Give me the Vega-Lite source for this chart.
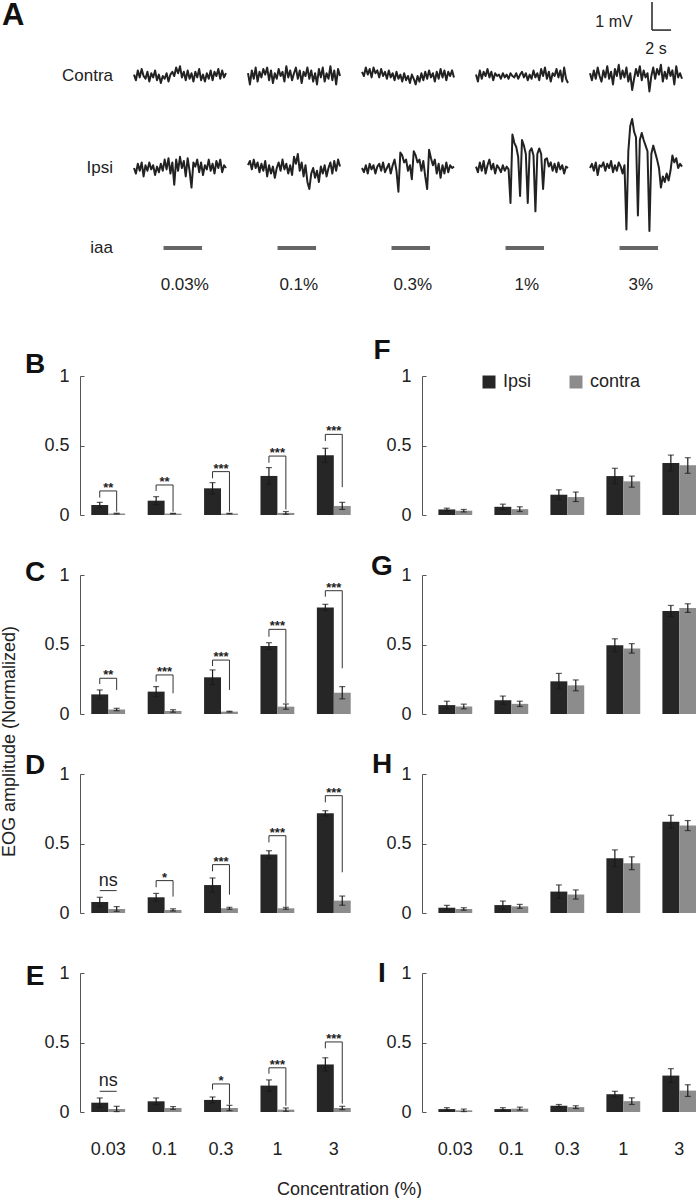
{
"$schema":"https://vega.github.io/schema/vega-lite/v6.json",
"padding":0,
"background":"white",
"spacing":44,
"resolve":{"scale":{"color":"independent"}},
"config":{
  "view":{"stroke":null},
  "font":"Liberation Sans",
  "axis":{"labelFont":"Liberation Sans","labelColor":"#222","labelFontSize":18,"domainColor":"#555","domainWidth":1,"tickColor":"#555","grid":false,"titleFont":"Liberation Sans","titleFontSize":18,"titleFontWeight":"normal","titleColor":"#222"},
  "axisY":{"tickCount":2,"labelExpr":"datum.value","tickSize":-4,"labelPadding":15},
  "axisX":{"labelAngle":0},
  "title":{"font":"Liberation Sans","fontSize":28,"fontWeight":"bold","color":"#111","anchor":"start","offset":0,"frame":"group"},
  "header":{"labelFont":"Liberation Sans","labelFontSize":17,"labelColor":"#222"},
  "text":{"font":"Liberation Sans","color":"#222"},
  "legend":{"labelFont":"Liberation Sans","labelColor":"#222"}
},
"datasets":{
"A":[
{"k":"tr","c":"0.03%","s":"Contra","t":[0,0.2,0.4,0.6,0.8,1,1.2,1.4,1.6,1.8,2,2.2,2.4,2.6,2.8,3,3.2,3.4,3.6,3.8,4,4.2,4.4,4.6,4.8,5,5.2,5.4,5.6,5.8,6,6.2,6.4,6.6,6.8,7,7.2,7.4,7.6,7.8,8,8.2,8.4,8.6,8.8,9,9.2,9.4,9.6],"v":[0.05,-0.15,0.2,-0.05,0.25,0.0,-0.1,0.15,-0.2,0.1,-0.05,0.2,-0.15,0.05,-0.25,0.0,-0.1,0.1,-0.2,0.05,0.15,0.0,0.3,0.1,0.35,-0.05,0.15,-0.15,0.2,-0.1,0.1,-0.2,0.15,-0.05,0.25,-0.15,0.05,-0.2,0.1,-0.1,0.2,-0.15,0.15,0.0,0.25,-0.1,0.2,-0.05,0.1]},
{"k":"tr","c":"0.1%","s":"Contra","t":[0,0.2,0.4,0.6,0.8,1,1.2,1.4,1.6,1.8,2,2.2,2.4,2.6,2.8,3,3.2,3.4,3.6,3.8,4,4.2,4.4,4.6,4.8,5,5.2,5.4,5.6,5.8,6,6.2,6.4,6.6,6.8,7,7.2,7.4,7.6,7.8,8,8.2,8.4,8.6,8.8,9,9.2,9.4,9.6],"v":[0.1,-0.3,0.2,-0.1,0.3,-0.2,0.15,-0.05,0.25,0.05,0.3,-0.15,0.2,-0.25,0.1,-0.1,0.25,0.0,0.15,-0.2,0.35,-0.05,0.2,-0.15,0.1,0.3,-0.1,0.2,-0.25,0.15,0.0,0.3,-0.1,0.2,-0.2,0.1,-0.3,0.25,-0.05,0.3,-0.2,0.1,-0.1,0.35,-0.15,0.2,-0.3,0.25,0.0]},
{"k":"tr","c":"0.3%","s":"Contra","t":[0,0.2,0.4,0.6,0.8,1,1.2,1.4,1.6,1.8,2,2.2,2.4,2.6,2.8,3,3.2,3.4,3.6,3.8,4,4.2,4.4,4.6,4.8,5,5.2,5.4,5.6,5.8,6,6.2,6.4,6.6,6.8,7,7.2,7.4,7.6,7.8,8,8.2,8.4,8.6,8.8,9,9.2,9.4,9.6],"v":[0.15,0.0,0.3,0.05,0.25,-0.05,0.3,0.1,0.2,-0.05,0.25,0.0,0.15,-0.1,0.2,-0.05,0.1,-0.15,0.15,-0.1,0.05,-0.2,0.1,-0.15,0.0,-0.25,0.05,-0.1,-0.3,0.0,-0.2,0.1,-0.15,0.15,-0.1,0.2,-0.05,0.1,-0.2,0.15,-0.1,0.25,-0.05,0.2,-0.15,0.15,0.0,0.2,-0.05]},
{"k":"tr","c":"1%","s":"Contra","t":[0,0.2,0.4,0.6,0.8,1,1.2,1.4,1.6,1.8,2,2.2,2.4,2.6,2.8,3,3.2,3.4,3.6,3.8,4,4.2,4.4,4.6,4.8,5,5.2,5.4,5.6,5.8,6,6.2,6.4,6.6,6.8,7,7.2,7.4,7.6,7.8,8,8.2,8.4,8.6,8.8,9,9.2,9.4,9.6],"v":[0.05,-0.2,0.2,-0.1,0.15,0.0,0.25,-0.05,0.15,-0.15,0.1,0.0,0.05,-0.1,0.1,-0.05,0.05,-0.1,0.1,0.0,-0.05,0.1,-0.1,0.05,0.15,-0.05,0.1,-0.15,0.05,-0.1,0.2,-0.05,0.1,-0.15,0.25,0.0,0.3,-0.1,0.15,-0.2,0.1,0.0,0.25,-0.05,0.2,-0.2,0.3,-0.1,-0.25]},
{"k":"tr","c":"3%","s":"Contra","t":[0,0.2,0.4,0.6,0.8,1,1.2,1.4,1.6,1.8,2,2.2,2.4,2.6,2.8,3,3.2,3.4,3.6,3.8,4,4.2,4.4,4.6,4.8,5,5.2,5.4,5.6,5.8,6,6.2,6.4,6.6,6.8,7,7.2,7.4,7.6,7.8,8,8.2,8.4,8.6,8.8,9,9.2,9.4,9.6],"v":[0.1,-0.15,0.2,-0.1,0.3,0.0,-0.2,0.2,-0.05,0.35,-0.1,0.15,-0.3,0.25,0.0,0.4,-0.1,0.2,-0.05,0.3,-0.2,0.1,-0.5,-0.1,0.25,0.0,0.35,-0.15,0.2,-0.05,0.1,-0.55,0.0,0.3,-0.1,0.25,0.05,0.4,-0.2,0.15,-0.1,0.3,0.0,0.2,-0.3,0.35,-0.05,0.1,-0.1]},
{"k":"tr","c":"0.03%","s":"Ipsi","t":[0,0.2,0.4,0.6,0.8,1,1.2,1.4,1.6,1.8,2,2.2,2.4,2.6,2.8,3,3.2,3.4,3.6,3.8,4,4.2,4.4,4.6,4.8,5,5.2,5.4,5.6,5.8,6,6.2,6.4,6.6,6.8,7,7.2,7.4,7.6,7.8,8,8.2,8.4,8.6,8.8,9,9.2,9.4,9.6],"v":[0.0,-0.2,0.15,-0.1,0.2,-0.3,0.1,-0.1,0.2,-0.05,0.1,-0.25,0.05,-0.15,0.15,-0.1,0.3,-0.05,0.35,-0.2,0.2,-0.6,0.3,-0.1,0.4,0.0,0.25,-0.3,0.35,-0.1,-0.7,0.2,0.05,0.3,-0.15,0.2,-0.25,0.1,-0.05,0.3,-0.1,0.15,-0.2,0.25,0.0,0.3,-0.15,0.1,0.0]},
{"k":"tr","c":"0.1%","s":"Ipsi","t":[0,0.2,0.4,0.6,0.8,1,1.2,1.4,1.6,1.8,2,2.2,2.4,2.6,2.8,3,3.2,3.4,3.6,3.8,4,4.2,4.4,4.6,4.8,5,5.2,5.4,5.6,5.8,6,6.2,6.4,6.6,6.8,7,7.2,7.4,7.6,7.8,8,8.2,8.4,8.6,8.8,9,9.2,9.4,9.6],"v":[0.1,0.25,-0.05,0.3,0.0,0.2,-0.15,0.15,-0.1,0.25,-0.3,0.1,-0.2,0.05,-0.35,0.0,0.2,-0.1,0.3,-0.05,0.15,-0.2,0.1,-0.25,0.4,0.15,0.5,-0.1,0.2,-0.3,0.1,-0.5,-0.75,-0.2,0.0,-0.35,-0.1,-0.5,0.05,-0.2,0.1,-0.3,0.0,0.2,-0.2,0.25,-0.1,0.3,0.05]},
{"k":"tr","c":"0.3%","s":"Ipsi","t":[0,0.2,0.4,0.6,0.8,1,1.2,1.4,1.6,1.8,2,2.2,2.4,2.6,2.8,3,3.2,3.4,3.6,3.8,4,4.2,4.4,4.6,4.8,5,5.2,5.4,5.6,5.8,6,6.2,6.4,6.6,6.8,7,7.2,7.4,7.6,7.8,8,8.2,8.4,8.6,8.8,9,9.2,9.4,9.6],"v":[0.0,-0.15,0.1,-0.2,0.15,-0.05,0.1,-0.2,0.05,0.15,-0.1,0.2,-0.15,0.0,0.15,-0.2,0.1,0.3,-0.1,-0.85,0.55,0.45,0.2,0.3,-0.1,0.1,-0.4,0.6,0.45,0.2,0.3,-0.1,0.25,-0.3,-0.75,0.65,0.35,0.1,0.3,-0.2,0.15,-0.35,0.1,-0.2,0.2,-0.15,0.1,0.0,0.05]},
{"k":"tr","c":"1%","s":"Ipsi","t":[0,0.2,0.4,0.6,0.8,1,1.2,1.4,1.6,1.8,2,2.2,2.4,2.6,2.8,3,3.2,3.4,3.6,3.8,4,4.2,4.4,4.6,4.8,5,5.2,5.4,5.6,5.8,6,6.2,6.4,6.6,6.8,7,7.2,7.4,7.6,7.8,8,8.2,8.4,8.6,8.8,9,9.2,9.4,9.6],"v":[0.05,-0.15,0.2,-0.1,0.25,-0.2,0.1,0.3,-0.05,0.15,-0.2,0.1,0.0,-0.15,0.1,-0.1,0.05,-0.05,-1.25,1.2,0.9,0.75,0.4,-1.0,1.0,0.8,0.5,-1.25,0.6,0.7,0.45,-1.55,0.5,0.7,0.5,-0.75,0.3,0.35,0.05,0.2,-0.1,0.15,-0.15,0.2,-0.05,0.1,-0.2,0.05,0.0]},
{"k":"tr","c":"3%","s":"Ipsi","t":[0,0.2,0.4,0.6,0.8,1,1.2,1.4,1.6,1.8,2,2.2,2.4,2.6,2.8,3,3.2,3.4,3.6,3.8,4,4.2,4.4,4.6,4.8,5,5.2,5.4,5.6,5.8,6,6.2,6.4,6.6,6.8,7,7.2,7.4,7.6,7.8,8,8.2,8.4,8.6,8.8,9,9.2,9.4,9.6],"v":[0.0,0.15,-0.1,0.2,-0.25,0.1,0.05,0.2,-0.1,0.15,0.0,0.25,-0.15,0.1,-0.1,0.2,0.05,-0.2,0.1,-2.2,0.6,1.5,1.75,1.3,1.1,-1.7,1.0,1.25,1.0,0.8,0.6,-2.25,0.5,0.8,0.55,0.3,0.0,-0.7,-0.3,-0.5,-0.2,-0.45,-0.1,0.45,0.2,0.35,0.0,0.15,0.05]},
{"k":"sb","c":"3%","s":"Contra","t":6.47,"t2":6.47,"v":2.64,"v2":1.64},
{"k":"sb","c":"3%","s":"Contra","t":6.47,"t2":8.46,"v":1.64,"v2":1.64},
{"k":"sbt","c":"3%","s":"Contra","t":2.5,"v":1.93,"lab":"1 mV"},
{"k":"sbt","c":"3%","s":"Contra","t":6.89,"v":0.96,"lab":"2 s"},
{"k":"iaa","c":"0.03%","s":"iaa","t":3.08,"t2":7.1,"v":0,"tm":5.3,"lab":"0.03%"},
{"k":"iaa","c":"0.1%","s":"iaa","t":3.08,"t2":7.1,"v":0,"tm":5.3,"lab":"0.1%"},
{"k":"iaa","c":"0.3%","s":"iaa","t":3.08,"t2":7.1,"v":0,"tm":5.3,"lab":"0.3%"},
{"k":"iaa","c":"1%","s":"iaa","t":3.08,"t2":7.1,"v":0,"tm":5.3,"lab":"1%"},
{"k":"iaa","c":"3%","s":"iaa","t":3.08,"t2":7.1,"v":0,"tm":5.3,"lab":"3%"}
],
"bars":[
{"p":"B","c":"0.03","s":"Ipsi","v":0.072,"lo":0.053,"hi":0.091},{"p":"B","c":"0.03","s":"contra","v":0.010,"lo":0.007,"hi":0.013},
{"p":"B","c":"0.1","s":"Ipsi","v":0.103,"lo":0.074,"hi":0.132},{"p":"B","c":"0.1","s":"contra","v":0.010,"lo":0.008,"hi":0.012},
{"p":"B","c":"0.3","s":"Ipsi","v":0.192,"lo":0.151,"hi":0.233},{"p":"B","c":"0.3","s":"contra","v":0.010,"lo":0.008,"hi":0.012},
{"p":"B","c":"1","s":"Ipsi","v":0.281,"lo":0.221,"hi":0.341},{"p":"B","c":"1","s":"contra","v":0.015,"lo":0.005,"hi":0.025},
{"p":"B","c":"3","s":"Ipsi","v":0.429,"lo":0.378,"hi":0.48},{"p":"B","c":"3","s":"contra","v":0.065,"lo":0.04,"hi":0.091},
{"p":"C","c":"0.03","s":"Ipsi","v":0.141,"lo":0.109,"hi":0.173},{"p":"C","c":"0.03","s":"contra","v":0.032,"lo":0.024,"hi":0.041},
{"p":"C","c":"0.1","s":"Ipsi","v":0.161,"lo":0.125,"hi":0.197},{"p":"C","c":"0.1","s":"contra","v":0.022,"lo":0.013,"hi":0.031},
{"p":"C","c":"0.3","s":"Ipsi","v":0.264,"lo":0.211,"hi":0.317},{"p":"C","c":"0.3","s":"contra","v":0.017,"lo":0.014,"hi":0.02},
{"p":"C","c":"1","s":"Ipsi","v":0.489,"lo":0.465,"hi":0.513},{"p":"C","c":"1","s":"contra","v":0.053,"lo":0.034,"hi":0.072},
{"p":"C","c":"3","s":"Ipsi","v":0.767,"lo":0.745,"hi":0.789},{"p":"C","c":"3","s":"contra","v":0.153,"lo":0.109,"hi":0.197},
{"p":"D","c":"0.03","s":"Ipsi","v":0.079,"lo":0.045,"hi":0.113},{"p":"D","c":"0.03","s":"contra","v":0.029,"lo":0.012,"hi":0.046},
{"p":"D","c":"0.1","s":"Ipsi","v":0.113,"lo":0.085,"hi":0.141},{"p":"D","c":"0.1","s":"contra","v":0.022,"lo":0.014,"hi":0.03},
{"p":"D","c":"0.3","s":"Ipsi","v":0.201,"lo":0.15,"hi":0.252},{"p":"D","c":"0.3","s":"contra","v":0.034,"lo":0.027,"hi":0.041},
{"p":"D","c":"1","s":"Ipsi","v":0.42,"lo":0.392,"hi":0.448},{"p":"D","c":"1","s":"contra","v":0.034,"lo":0.027,"hi":0.041},
{"p":"D","c":"3","s":"Ipsi","v":0.717,"lo":0.698,"hi":0.736},{"p":"D","c":"3","s":"contra","v":0.089,"lo":0.056,"hi":0.122},
{"p":"E","c":"0.03","s":"Ipsi","v":0.067,"lo":0.033,"hi":0.101},{"p":"E","c":"0.03","s":"contra","v":0.022,"lo":0.003,"hi":0.041},
{"p":"E","c":"0.1","s":"Ipsi","v":0.077,"lo":0.053,"hi":0.101},{"p":"E","c":"0.1","s":"contra","v":0.029,"lo":0.019,"hi":0.039},
{"p":"E","c":"0.3","s":"Ipsi","v":0.087,"lo":0.066,"hi":0.108},{"p":"E","c":"0.3","s":"contra","v":0.029,"lo":0.01,"hi":0.048},
{"p":"E","c":"1","s":"Ipsi","v":0.19,"lo":0.149,"hi":0.231},{"p":"E","c":"1","s":"contra","v":0.017,"lo":0.005,"hi":0.029},
{"p":"E","c":"3","s":"Ipsi","v":0.342,"lo":0.294,"hi":0.39},{"p":"E","c":"3","s":"contra","v":0.029,"lo":0.017,"hi":0.041},
{"p":"F","c":"0.03","s":"Ipsi","v":0.04,"lo":0.031,"hi":0.049},{"p":"F","c":"0.03","s":"contra","v":0.031,"lo":0.022,"hi":0.04},
{"p":"F","c":"0.1","s":"Ipsi","v":0.059,"lo":0.04,"hi":0.078},{"p":"F","c":"0.1","s":"contra","v":0.042,"lo":0.025,"hi":0.059},
{"p":"F","c":"0.3","s":"Ipsi","v":0.146,"lo":0.111,"hi":0.181},{"p":"F","c":"0.3","s":"contra","v":0.129,"lo":0.097,"hi":0.165},
{"p":"F","c":"1","s":"Ipsi","v":0.28,"lo":0.224,"hi":0.336},{"p":"F","c":"1","s":"contra","v":0.242,"lo":0.2,"hi":0.28},
{"p":"F","c":"3","s":"Ipsi","v":0.374,"lo":0.317,"hi":0.431},{"p":"F","c":"3","s":"contra","v":0.358,"lo":0.3,"hi":0.412},
{"p":"G","c":"0.03","s":"Ipsi","v":0.064,"lo":0.036,"hi":0.092},{"p":"G","c":"0.03","s":"contra","v":0.054,"lo":0.037,"hi":0.071},
{"p":"G","c":"0.1","s":"Ipsi","v":0.099,"lo":0.069,"hi":0.129},{"p":"G","c":"0.1","s":"contra","v":0.073,"lo":0.054,"hi":0.092},
{"p":"G","c":"0.3","s":"Ipsi","v":0.235,"lo":0.178,"hi":0.292},{"p":"G","c":"0.3","s":"contra","v":0.206,"lo":0.167,"hi":0.245},
{"p":"G","c":"1","s":"Ipsi","v":0.494,"lo":0.447,"hi":0.541},{"p":"G","c":"1","s":"contra","v":0.472,"lo":0.438,"hi":0.506},
{"p":"G","c":"3","s":"Ipsi","v":0.741,"lo":0.701,"hi":0.781},{"p":"G","c":"3","s":"contra","v":0.762,"lo":0.731,"hi":0.793},
{"p":"H","c":"0.03","s":"Ipsi","v":0.038,"lo":0.021,"hi":0.055},{"p":"H","c":"0.03","s":"contra","v":0.029,"lo":0.02,"hi":0.038},
{"p":"H","c":"0.1","s":"Ipsi","v":0.057,"lo":0.028,"hi":0.086},{"p":"H","c":"0.1","s":"contra","v":0.048,"lo":0.034,"hi":0.062},
{"p":"H","c":"0.3","s":"Ipsi","v":0.154,"lo":0.106,"hi":0.202},{"p":"H","c":"0.3","s":"contra","v":0.133,"lo":0.1,"hi":0.166},
{"p":"H","c":"1","s":"Ipsi","v":0.394,"lo":0.334,"hi":0.454},{"p":"H","c":"1","s":"contra","v":0.358,"lo":0.312,"hi":0.404},
{"p":"H","c":"3","s":"Ipsi","v":0.656,"lo":0.609,"hi":0.703},{"p":"H","c":"3","s":"contra","v":0.629,"lo":0.593,"hi":0.665},
{"p":"I","c":"0.03","s":"Ipsi","v":0.021,"lo":0.011,"hi":0.031},{"p":"I","c":"0.03","s":"contra","v":0.012,"lo":0.003,"hi":0.021},
{"p":"I","c":"0.1","s":"Ipsi","v":0.021,"lo":0.011,"hi":0.031},{"p":"I","c":"0.1","s":"contra","v":0.024,"lo":0.013,"hi":0.035},
{"p":"I","c":"0.3","s":"Ipsi","v":0.045,"lo":0.036,"hi":0.054},{"p":"I","c":"0.3","s":"contra","v":0.035,"lo":0.025,"hi":0.045},
{"p":"I","c":"1","s":"Ipsi","v":0.128,"lo":0.107,"hi":0.149},{"p":"I","c":"1","s":"contra","v":0.078,"lo":0.054,"hi":0.102},
{"p":"I","c":"3","s":"Ipsi","v":0.262,"lo":0.212,"hi":0.312},{"p":"I","c":"3","s":"contra","v":0.154,"lo":0.112,"hi":0.196}
],
"br":[
{"p":"B","c":"0.03","s":["Ipsi","Ipsi","contra","contra"],"y":[0.125,0.173,0.173,0.024],"k":[0,1,2,3]},
{"p":"B","c":"0.1","s":["Ipsi","Ipsi","contra","contra"],"y":[0.173,0.216,0.216,0.024],"k":[0,1,2,3]},
{"p":"B","c":"0.3","s":["Ipsi","Ipsi","contra","contra"],"y":[0.264,0.312,0.312,0.024],"k":[0,1,2,3]},
{"p":"B","c":"1","s":["Ipsi","Ipsi","contra","contra"],"y":[0.376,0.424,0.424,0.04],"k":[0,1,2,3]},
{"p":"B","c":"3","s":["Ipsi","Ipsi","contra","contra"],"y":[0.532,0.58,0.58,0.2],"k":[0,1,2,3]},
{"p":"C","c":"0.03","s":["Ipsi","Ipsi","contra","contra"],"y":[0.215,0.257,0.257,0.173],"k":[0,1,2,3]},
{"p":"C","c":"0.1","s":["Ipsi","Ipsi","contra","contra"],"y":[0.233,0.281,0.281,0.149],"k":[0,1,2,3]},
{"p":"C","c":"0.3","s":["Ipsi","Ipsi","contra","contra"],"y":[0.345,0.388,0.388,0.173],"k":[0,1,2,3]},
{"p":"C","c":"1","s":["Ipsi","Ipsi","contra","contra"],"y":[0.556,0.609,0.609,0.077],"k":[0,1,2,3]},
{"p":"C","c":"3","s":["Ipsi","Ipsi","contra","contra"],"y":[0.844,0.887,0.887,0.329],"k":[0,1,2,3]},
{"p":"D","c":"0.03","s":["Ipsi","contra"],"y":[0.161,0.161],"k":[0,1]},
{"p":"D","c":"0.1","s":["Ipsi","Ipsi","contra","contra"],"y":[0.185,0.233,0.233,0.118],"k":[0,1,2,3]},
{"p":"D","c":"0.3","s":["Ipsi","Ipsi","contra","contra"],"y":[0.3,0.348,0.348,0.132],"k":[0,1,2,3]},
{"p":"D","c":"1","s":["Ipsi","Ipsi","contra","contra"],"y":[0.508,0.556,0.556,0.045],"k":[0,1,2,3]},
{"p":"D","c":"3","s":["Ipsi","Ipsi","contra","contra"],"y":[0.796,0.844,0.844,0.293],"k":[0,1,2,3]},
{"p":"E","c":"0.03","s":["Ipsi","contra"],"y":[0.149,0.149],"k":[0,1]},
{"p":"E","c":"0.3","s":["Ipsi","Ipsi","contra","contra"],"y":[0.161,0.202,0.202,0.053],"k":[0,1,2,3]},
{"p":"E","c":"1","s":["Ipsi","Ipsi","contra","contra"],"y":[0.275,0.318,0.318,0.045],"k":[0,1,2,3]},
{"p":"E","c":"3","s":["Ipsi","Ipsi","contra","contra"],"y":[0.458,0.504,0.504,0.06],"k":[0,1,2,3]}
],
"sig":[
{"p":"B","c":"0.03","lab":"**","y":0.173},{"p":"B","c":"0.1","lab":"**","y":0.216},{"p":"B","c":"0.3","lab":"***","y":0.312},{"p":"B","c":"1","lab":"***","y":0.424},{"p":"B","c":"3","lab":"***","y":0.58},
{"p":"C","c":"0.03","lab":"**","y":0.257},{"p":"C","c":"0.1","lab":"***","y":0.281},{"p":"C","c":"0.3","lab":"***","y":0.388},{"p":"C","c":"1","lab":"***","y":0.609},{"p":"C","c":"3","lab":"***","y":0.887},
{"p":"D","c":"0.03","lab":"ns","y":0.161},{"p":"D","c":"0.1","lab":"*","y":0.233},{"p":"D","c":"0.3","lab":"***","y":0.348},{"p":"D","c":"1","lab":"***","y":0.556},{"p":"D","c":"3","lab":"***","y":0.844},
{"p":"E","c":"0.03","lab":"ns","y":0.149},{"p":"E","c":"0.3","lab":"*","y":0.202},{"p":"E","c":"1","lab":"***","y":0.318},{"p":"E","c":"3","lab":"***","y":0.504}
]
},
"vconcat":[
{
 "title":{"text":"A","fontSize":31,"align":"left","dx":-78,"dy":35},
 "spacing":22,
 "vconcat":[
  {
   "data":{"name":"A"},
   "transform":[{"filter":"datum.s=='Contra'"}],
   "facet":{"column":{"field":"c","sort":["0.03%","0.1%","0.3%","1%","3%"],"header":null},
            "row":{"field":"s","header":{"title":null,"labelAngle":0,"labelAlign":"left","labelPadding":-33,"labelFontSize":17}}},
   "spacing":{"row":0,"column":0},
   "bounds":"flush",
   "spec":{"width":114,"height":40,"layer":[
     {"transform":[{"filter":"datum.k=='tr'"},{"flatten":["t","v"]}],
      "mark":{"type":"line","color":"#222","strokeWidth":2,"strokeJoin":"round"},
      "encoding":{"x":{"field":"t","type":"quantitative","scale":{"domain":[-5.635,6.261]},"axis":null},
                  "y":{"field":"v","type":"quantitative","scale":{"domain":[-0.714,0.714]},"axis":null}}},
     {"transform":[{"filter":"datum.k=='sb'"}],
      "mark":{"type":"rule","color":"#222","strokeWidth":1.5},
      "encoding":{"x":{"field":"t","type":"quantitative","scale":{"domain":[-5.635,6.261]},"axis":null},"x2":{"field":"t2"},
                  "y":{"field":"v","type":"quantitative","scale":{"domain":[-0.714,0.714]},"axis":null},"y2":{"field":"v2"}}},
     {"transform":[{"filter":"datum.k=='sbt'"}],
      "mark":{"type":"text","fontSize":16,"color":"#222","baseline":"middle"},
      "encoding":{"x":{"field":"t","type":"quantitative","scale":{"domain":[-5.635,6.261]},"axis":null},
                  "y":{"field":"v","type":"quantitative","scale":{"domain":[-0.714,0.714]},"axis":null},
                  "text":{"field":"lab"}}}
   ]}
  },
  {
   "spacing":6,
   "vconcat":[
    {
     "data":{"name":"A"},
     "transform":[{"filter":"datum.s=='Ipsi'"}],
     "facet":{"column":{"field":"c","sort":["0.03%","0.1%","0.3%","1%","3%"],"header":null},
              "row":{"field":"s","header":{"title":null,"labelAngle":0,"labelAlign":"left","labelPadding":-33,"labelFontSize":17}}},
     "spacing":{"row":0,"column":0},
     "bounds":"flush",
     "spec":{"width":114,"height":80,"layer":[
       {"transform":[{"filter":"datum.k=='tr'"},{"flatten":["t","v"]}],
        "mark":{"type":"line","color":"#222","strokeWidth":2,"strokeJoin":"round"},
        "encoding":{"x":{"field":"t","type":"quantitative","scale":{"domain":[-5.635,6.261]},"axis":null},
                    "y":{"field":"v","type":"quantitative","scale":{"domain":[-1.43,1.43]},"axis":null}}}
     ]}
    },
    {
     "data":{"name":"A"},
     "transform":[{"filter":"datum.s=='iaa'"}],
     "facet":{"column":{"field":"c","sort":["0.03%","0.1%","0.3%","1%","3%"],"header":null},
              "row":{"field":"s","header":{"title":null,"labelAngle":0,"labelAlign":"left","labelPadding":-33,"labelFontSize":17}}},
     "spacing":{"row":0,"column":0},
     "bounds":"flush",
     "spec":{"width":114,"height":20,"layer":[
       {"mark":{"type":"rule","color":"#666","strokeWidth":4},
        "encoding":{"x":{"field":"t","type":"quantitative","scale":{"domain":[-5.635,6.261]},"axis":null},"x2":{"field":"t2"},
                    "y":{"field":"v","type":"quantitative","scale":{"domain":[-1,1]},"axis":null}}},
       {"mark":{"type":"text","fontSize":17,"color":"#222","baseline":"middle","dy":37},
        "encoding":{"x":{"field":"tm","type":"quantitative","scale":{"domain":[-5.635,6.261]},"axis":null},
                    "y":{"field":"v","type":"quantitative","scale":{"domain":[-1,1]},"axis":null},
                    "text":{"field":"lab"}}}
     ]}
    }
   ]
  }
 ]
},
{
 "bounds":"flush",
 "columns":2,
 "spacing":{"row":60,"column":60},
 "resolve":{"scale":{"color":"independent"}},
 "concat":[
    {"width":282,"height":139,"title":{"text":"B","align":"center","dx":-45,"dy":16},
     "layer":[
      {"data":{"name":"bars"},"transform":[{"filter":"datum.p=='B'"}],"mark":"bar",
       "encoding":{"x":{"field":"c","type":"ordinal","sort":["0.03","0.1","0.3","1","3"],"title":null,"scale":{"paddingInner":0.4,"paddingOuter":0.2},"axis":null},
        "xOffset":{"field":"s","sort":["Ipsi","contra"]},
        "y":{"field":"v","type":"quantitative","title":null,"scale":{"domain":[0,1]}},
        "color":{"field":"s","scale":{"domain":["Ipsi","contra"],"range":["#262626","#8c8c8c"]},"legend":null}}},
      {"data":{"name":"bars"},"transform":[{"filter":"datum.p=='B'"}],"mark":{"type":"rule","color":"#1a1a1a","strokeWidth":1.2},
       "encoding":{"x":{"field":"c","type":"ordinal","sort":["0.03","0.1","0.3","1","3"],"scale":{"paddingInner":0.4,"paddingOuter":0.2},"axis":null},"xOffset":{"field":"s","sort":["Ipsi","contra"]},
        "y":{"field":"lo","type":"quantitative","title":null,"scale":{"domain":[0,1]}},"y2":{"field":"hi"}}},
      {"data":{"name":"bars"},"transform":[{"filter":"datum.p=='B'"}],"mark":{"type":"tick","color":"#1a1a1a","thickness":1.2,"size":6},
       "encoding":{"x":{"field":"c","type":"ordinal","sort":["0.03","0.1","0.3","1","3"],"scale":{"paddingInner":0.4,"paddingOuter":0.2},"axis":null},"xOffset":{"field":"s","sort":["Ipsi","contra"]},
        "y":{"field":"hi","type":"quantitative","title":null,"scale":{"domain":[0,1]}}}},
      {"data":{"name":"bars"},"transform":[{"filter":"datum.p=='B'"}],"mark":{"type":"tick","color":"#1a1a1a","thickness":1.2,"size":6},
       "encoding":{"x":{"field":"c","type":"ordinal","sort":["0.03","0.1","0.3","1","3"],"scale":{"paddingInner":0.4,"paddingOuter":0.2},"axis":null},"xOffset":{"field":"s","sort":["Ipsi","contra"]},
        "y":{"field":"lo","type":"quantitative","title":null,"scale":{"domain":[0,1]}}}},
      {"data":{"name":"br"},"transform":[{"filter":"datum.p=='B'"},{"flatten":["s","y","k"]}],"mark":{"type":"line","color":"#333","strokeWidth":1},
       "encoding":{"x":{"field":"c","type":"ordinal","sort":["0.03","0.1","0.3","1","3"],"scale":{"paddingInner":0.4,"paddingOuter":0.2},"axis":null},"xOffset":{"field":"s","sort":["Ipsi","contra"]},
        "y":{"field":"y","type":"quantitative","title":null,"scale":{"domain":[0,1]}},"order":{"field":"k","type":"quantitative"},"detail":{"field":"c"}}},
      {"data":{"name":"sig"},"transform":[{"filter":"datum.p=='B' && datum.lab!='ns'"}],"mark":{"type":"text","fontSize":13,"fontWeight":"bold","baseline":"alphabetic","dy":1},
       "encoding":{"x":{"field":"c","type":"ordinal","sort":["0.03","0.1","0.3","1","3"],"scale":{"paddingInner":0.4,"paddingOuter":0.2},"axis":null},
        "y":{"field":"y","type":"quantitative","title":null,"scale":{"domain":[0,1]}},"text":{"field":"lab"}}}
     ]},
    {"width":274,"height":139,"title":{"text":"F","align":"center","dx":-40,"dy":2},
     "layer":[
      {"data":{"name":"bars"},"transform":[{"filter":"datum.p=='F'"}],"mark":"bar",
       "encoding":{"x":{"field":"c","type":"ordinal","sort":["0.03","0.1","0.3","1","3"],"title":null,"scale":{"paddingInner":0.4,"paddingOuter":0.1464,"align":1},"axis":null},
        "xOffset":{"field":"s","sort":["Ipsi","contra"]},
        "y":{"field":"v","type":"quantitative","title":null,"scale":{"domain":[0,1]}},
        "color":{"field":"s","scale":{"domain":["Ipsi","contra"],"range":["#262626","#8c8c8c"]},
          "legend":{"orient":"none","legendX":58,"legendY":-3,"direction":"horizontal","title":null,"symbolType":"square","symbolSize":169,"symbolStrokeWidth":0,"labelFontSize":18,"labelOffset":5,"columnPadding":35,"padding":0}}}},
      {"data":{"name":"bars"},"transform":[{"filter":"datum.p=='F'"}],"mark":{"type":"rule","color":"#1a1a1a","strokeWidth":1.2},
       "encoding":{"x":{"field":"c","type":"ordinal","sort":["0.03","0.1","0.3","1","3"],"scale":{"paddingInner":0.4,"paddingOuter":0.1464,"align":1},"axis":null},"xOffset":{"field":"s","sort":["Ipsi","contra"]},
        "y":{"field":"lo","type":"quantitative","title":null,"scale":{"domain":[0,1]}},"y2":{"field":"hi"}}},
      {"data":{"name":"bars"},"transform":[{"filter":"datum.p=='F'"}],"mark":{"type":"tick","color":"#1a1a1a","thickness":1.2,"size":6},
       "encoding":{"x":{"field":"c","type":"ordinal","sort":["0.03","0.1","0.3","1","3"],"scale":{"paddingInner":0.4,"paddingOuter":0.1464,"align":1},"axis":null},"xOffset":{"field":"s","sort":["Ipsi","contra"]},
        "y":{"field":"hi","type":"quantitative","title":null,"scale":{"domain":[0,1]}}}},
      {"data":{"name":"bars"},"transform":[{"filter":"datum.p=='F'"}],"mark":{"type":"tick","color":"#1a1a1a","thickness":1.2,"size":6},
       "encoding":{"x":{"field":"c","type":"ordinal","sort":["0.03","0.1","0.3","1","3"],"scale":{"paddingInner":0.4,"paddingOuter":0.1464,"align":1},"axis":null},"xOffset":{"field":"s","sort":["Ipsi","contra"]},
        "y":{"field":"lo","type":"quantitative","title":null,"scale":{"domain":[0,1]}}}}
     ]},
    {"width":282,"height":139,"title":{"text":"C","align":"center","dx":-45,"dy":25},
     "layer":[
      {"data":{"name":"bars"},"transform":[{"filter":"datum.p=='C'"}],"mark":"bar",
       "encoding":{"x":{"field":"c","type":"ordinal","sort":["0.03","0.1","0.3","1","3"],"title":null,"scale":{"paddingInner":0.4,"paddingOuter":0.2},"axis":null},
        "xOffset":{"field":"s","sort":["Ipsi","contra"]},
        "y":{"field":"v","type":"quantitative","title":"EOG amplitude (Normalized)","scale":{"domain":[0,1]},"axis":{"title":"EOG amplitude (Normalized)","titleX":-71,"titleY":166,"titleAngle":-90,"titleAlign":"center","titleBaseline":"middle"}},
        "color":{"field":"s","scale":{"domain":["Ipsi","contra"],"range":["#262626","#8c8c8c"]},"legend":null}}},
      {"data":{"name":"bars"},"transform":[{"filter":"datum.p=='C'"}],"mark":{"type":"rule","color":"#1a1a1a","strokeWidth":1.2},
       "encoding":{"x":{"field":"c","type":"ordinal","sort":["0.03","0.1","0.3","1","3"],"scale":{"paddingInner":0.4,"paddingOuter":0.2},"axis":null},"xOffset":{"field":"s","sort":["Ipsi","contra"]},
        "y":{"field":"lo","type":"quantitative","title":"EOG amplitude (Normalized)","scale":{"domain":[0,1]}},"y2":{"field":"hi"}}},
      {"data":{"name":"bars"},"transform":[{"filter":"datum.p=='C'"}],"mark":{"type":"tick","color":"#1a1a1a","thickness":1.2,"size":6},
       "encoding":{"x":{"field":"c","type":"ordinal","sort":["0.03","0.1","0.3","1","3"],"scale":{"paddingInner":0.4,"paddingOuter":0.2},"axis":null},"xOffset":{"field":"s","sort":["Ipsi","contra"]},
        "y":{"field":"hi","type":"quantitative","title":"EOG amplitude (Normalized)","scale":{"domain":[0,1]}}}},
      {"data":{"name":"bars"},"transform":[{"filter":"datum.p=='C'"}],"mark":{"type":"tick","color":"#1a1a1a","thickness":1.2,"size":6},
       "encoding":{"x":{"field":"c","type":"ordinal","sort":["0.03","0.1","0.3","1","3"],"scale":{"paddingInner":0.4,"paddingOuter":0.2},"axis":null},"xOffset":{"field":"s","sort":["Ipsi","contra"]},
        "y":{"field":"lo","type":"quantitative","title":"EOG amplitude (Normalized)","scale":{"domain":[0,1]}}}},
      {"data":{"name":"br"},"transform":[{"filter":"datum.p=='C'"},{"flatten":["s","y","k"]}],"mark":{"type":"line","color":"#333","strokeWidth":1},
       "encoding":{"x":{"field":"c","type":"ordinal","sort":["0.03","0.1","0.3","1","3"],"scale":{"paddingInner":0.4,"paddingOuter":0.2},"axis":null},"xOffset":{"field":"s","sort":["Ipsi","contra"]},
        "y":{"field":"y","type":"quantitative","title":"EOG amplitude (Normalized)","scale":{"domain":[0,1]}},"order":{"field":"k","type":"quantitative"},"detail":{"field":"c"}}},
      {"data":{"name":"sig"},"transform":[{"filter":"datum.p=='C' && datum.lab!='ns'"}],"mark":{"type":"text","fontSize":13,"fontWeight":"bold","baseline":"alphabetic","dy":1},
       "encoding":{"x":{"field":"c","type":"ordinal","sort":["0.03","0.1","0.3","1","3"],"scale":{"paddingInner":0.4,"paddingOuter":0.2},"axis":null},
        "y":{"field":"y","type":"quantitative","title":"EOG amplitude (Normalized)","scale":{"domain":[0,1]}},"text":{"field":"lab"}}}
     ]},
    {"width":274,"height":139,"title":{"text":"G","align":"center","dx":-40,"dy":19},
     "layer":[
      {"data":{"name":"bars"},"transform":[{"filter":"datum.p=='G'"}],"mark":"bar",
       "encoding":{"x":{"field":"c","type":"ordinal","sort":["0.03","0.1","0.3","1","3"],"title":null,"scale":{"paddingInner":0.4,"paddingOuter":0.1464,"align":1},"axis":null},
        "xOffset":{"field":"s","sort":["Ipsi","contra"]},
        "y":{"field":"v","type":"quantitative","title":null,"scale":{"domain":[0,1]}},
        "color":{"field":"s","scale":{"domain":["Ipsi","contra"],"range":["#262626","#8c8c8c"]},"legend":null}}},
      {"data":{"name":"bars"},"transform":[{"filter":"datum.p=='G'"}],"mark":{"type":"rule","color":"#1a1a1a","strokeWidth":1.2},
       "encoding":{"x":{"field":"c","type":"ordinal","sort":["0.03","0.1","0.3","1","3"],"scale":{"paddingInner":0.4,"paddingOuter":0.1464,"align":1},"axis":null},"xOffset":{"field":"s","sort":["Ipsi","contra"]},
        "y":{"field":"lo","type":"quantitative","title":null,"scale":{"domain":[0,1]}},"y2":{"field":"hi"}}},
      {"data":{"name":"bars"},"transform":[{"filter":"datum.p=='G'"}],"mark":{"type":"tick","color":"#1a1a1a","thickness":1.2,"size":6},
       "encoding":{"x":{"field":"c","type":"ordinal","sort":["0.03","0.1","0.3","1","3"],"scale":{"paddingInner":0.4,"paddingOuter":0.1464,"align":1},"axis":null},"xOffset":{"field":"s","sort":["Ipsi","contra"]},
        "y":{"field":"hi","type":"quantitative","title":null,"scale":{"domain":[0,1]}}}},
      {"data":{"name":"bars"},"transform":[{"filter":"datum.p=='G'"}],"mark":{"type":"tick","color":"#1a1a1a","thickness":1.2,"size":6},
       "encoding":{"x":{"field":"c","type":"ordinal","sort":["0.03","0.1","0.3","1","3"],"scale":{"paddingInner":0.4,"paddingOuter":0.1464,"align":1},"axis":null},"xOffset":{"field":"s","sort":["Ipsi","contra"]},
        "y":{"field":"lo","type":"quantitative","title":null,"scale":{"domain":[0,1]}}}}
     ]},
    {"width":282,"height":139,"title":{"text":"D","align":"center","dx":-45,"dy":19},
     "layer":[
      {"data":{"name":"bars"},"transform":[{"filter":"datum.p=='D'"}],"mark":"bar",
       "encoding":{"x":{"field":"c","type":"ordinal","sort":["0.03","0.1","0.3","1","3"],"title":null,"scale":{"paddingInner":0.4,"paddingOuter":0.2},"axis":null},
        "xOffset":{"field":"s","sort":["Ipsi","contra"]},
        "y":{"field":"v","type":"quantitative","title":null,"scale":{"domain":[0,1]}},
        "color":{"field":"s","scale":{"domain":["Ipsi","contra"],"range":["#262626","#8c8c8c"]},"legend":null}}},
      {"data":{"name":"bars"},"transform":[{"filter":"datum.p=='D'"}],"mark":{"type":"rule","color":"#1a1a1a","strokeWidth":1.2},
       "encoding":{"x":{"field":"c","type":"ordinal","sort":["0.03","0.1","0.3","1","3"],"scale":{"paddingInner":0.4,"paddingOuter":0.2},"axis":null},"xOffset":{"field":"s","sort":["Ipsi","contra"]},
        "y":{"field":"lo","type":"quantitative","title":null,"scale":{"domain":[0,1]}},"y2":{"field":"hi"}}},
      {"data":{"name":"bars"},"transform":[{"filter":"datum.p=='D'"}],"mark":{"type":"tick","color":"#1a1a1a","thickness":1.2,"size":6},
       "encoding":{"x":{"field":"c","type":"ordinal","sort":["0.03","0.1","0.3","1","3"],"scale":{"paddingInner":0.4,"paddingOuter":0.2},"axis":null},"xOffset":{"field":"s","sort":["Ipsi","contra"]},
        "y":{"field":"hi","type":"quantitative","title":null,"scale":{"domain":[0,1]}}}},
      {"data":{"name":"bars"},"transform":[{"filter":"datum.p=='D'"}],"mark":{"type":"tick","color":"#1a1a1a","thickness":1.2,"size":6},
       "encoding":{"x":{"field":"c","type":"ordinal","sort":["0.03","0.1","0.3","1","3"],"scale":{"paddingInner":0.4,"paddingOuter":0.2},"axis":null},"xOffset":{"field":"s","sort":["Ipsi","contra"]},
        "y":{"field":"lo","type":"quantitative","title":null,"scale":{"domain":[0,1]}}}},
      {"data":{"name":"br"},"transform":[{"filter":"datum.p=='D'"},{"flatten":["s","y","k"]}],"mark":{"type":"line","color":"#333","strokeWidth":1},
       "encoding":{"x":{"field":"c","type":"ordinal","sort":["0.03","0.1","0.3","1","3"],"scale":{"paddingInner":0.4,"paddingOuter":0.2},"axis":null},"xOffset":{"field":"s","sort":["Ipsi","contra"]},
        "y":{"field":"y","type":"quantitative","title":null,"scale":{"domain":[0,1]}},"order":{"field":"k","type":"quantitative"},"detail":{"field":"c"}}},
      {"data":{"name":"sig"},"transform":[{"filter":"datum.p=='D' && datum.lab!='ns'"}],"mark":{"type":"text","fontSize":13,"fontWeight":"bold","baseline":"alphabetic","dy":1},
       "encoding":{"x":{"field":"c","type":"ordinal","sort":["0.03","0.1","0.3","1","3"],"scale":{"paddingInner":0.4,"paddingOuter":0.2},"axis":null},
        "y":{"field":"y","type":"quantitative","title":null,"scale":{"domain":[0,1]}},"text":{"field":"lab"}}},
      {"data":{"name":"sig"},"transform":[{"filter":"datum.p=='D' && datum.lab=='ns'"}],"mark":{"type":"text","fontSize":18,"baseline":"alphabetic","dy":-5},
       "encoding":{"x":{"field":"c","type":"ordinal","sort":["0.03","0.1","0.3","1","3"],"scale":{"paddingInner":0.4,"paddingOuter":0.2},"axis":null},
        "y":{"field":"y","type":"quantitative","title":null,"scale":{"domain":[0,1]}},"text":{"field":"lab"}}}
     ]},
    {"width":274,"height":139,"title":{"text":"H","align":"center","dx":-40,"dy":18},
     "layer":[
      {"data":{"name":"bars"},"transform":[{"filter":"datum.p=='H'"}],"mark":"bar",
       "encoding":{"x":{"field":"c","type":"ordinal","sort":["0.03","0.1","0.3","1","3"],"title":null,"scale":{"paddingInner":0.4,"paddingOuter":0.1464,"align":1},"axis":null},
        "xOffset":{"field":"s","sort":["Ipsi","contra"]},
        "y":{"field":"v","type":"quantitative","title":null,"scale":{"domain":[0,1]}},
        "color":{"field":"s","scale":{"domain":["Ipsi","contra"],"range":["#262626","#8c8c8c"]},"legend":null}}},
      {"data":{"name":"bars"},"transform":[{"filter":"datum.p=='H'"}],"mark":{"type":"rule","color":"#1a1a1a","strokeWidth":1.2},
       "encoding":{"x":{"field":"c","type":"ordinal","sort":["0.03","0.1","0.3","1","3"],"scale":{"paddingInner":0.4,"paddingOuter":0.1464,"align":1},"axis":null},"xOffset":{"field":"s","sort":["Ipsi","contra"]},
        "y":{"field":"lo","type":"quantitative","title":null,"scale":{"domain":[0,1]}},"y2":{"field":"hi"}}},
      {"data":{"name":"bars"},"transform":[{"filter":"datum.p=='H'"}],"mark":{"type":"tick","color":"#1a1a1a","thickness":1.2,"size":6},
       "encoding":{"x":{"field":"c","type":"ordinal","sort":["0.03","0.1","0.3","1","3"],"scale":{"paddingInner":0.4,"paddingOuter":0.1464,"align":1},"axis":null},"xOffset":{"field":"s","sort":["Ipsi","contra"]},
        "y":{"field":"hi","type":"quantitative","title":null,"scale":{"domain":[0,1]}}}},
      {"data":{"name":"bars"},"transform":[{"filter":"datum.p=='H'"}],"mark":{"type":"tick","color":"#1a1a1a","thickness":1.2,"size":6},
       "encoding":{"x":{"field":"c","type":"ordinal","sort":["0.03","0.1","0.3","1","3"],"scale":{"paddingInner":0.4,"paddingOuter":0.1464,"align":1},"axis":null},"xOffset":{"field":"s","sort":["Ipsi","contra"]},
        "y":{"field":"lo","type":"quantitative","title":null,"scale":{"domain":[0,1]}}}}
     ]},
    {"width":282,"height":139,"title":{"text":"E","align":"center","dx":-45,"dy":31},
     "layer":[
      {"data":{"name":"bars"},"transform":[{"filter":"datum.p=='E'"}],"mark":"bar",
       "encoding":{"x":{"field":"c","type":"ordinal","sort":["0.03","0.1","0.3","1","3"],"title":"Concentration (%)","scale":{"paddingInner":0.4,"paddingOuter":0.2},"axis":{"labelPadding":28,"domain":false,"ticks":false,"title":"Concentration (%)","titleX":269,"titleY":77,"titleAlign":"center","titleBaseline":"middle","titleAngle":0}},
        "xOffset":{"field":"s","sort":["Ipsi","contra"]},
        "y":{"field":"v","type":"quantitative","title":null,"scale":{"domain":[0,1]}},
        "color":{"field":"s","scale":{"domain":["Ipsi","contra"],"range":["#262626","#8c8c8c"]},"legend":null}}},
      {"data":{"name":"bars"},"transform":[{"filter":"datum.p=='E'"}],"mark":{"type":"rule","color":"#1a1a1a","strokeWidth":1.2},
       "encoding":{"x":{"field":"c","type":"ordinal","sort":["0.03","0.1","0.3","1","3"],"title":"Concentration (%)","scale":{"paddingInner":0.4,"paddingOuter":0.2}},"xOffset":{"field":"s","sort":["Ipsi","contra"]},
        "y":{"field":"lo","type":"quantitative","title":null,"scale":{"domain":[0,1]}},"y2":{"field":"hi"}}},
      {"data":{"name":"bars"},"transform":[{"filter":"datum.p=='E'"}],"mark":{"type":"tick","color":"#1a1a1a","thickness":1.2,"size":6},
       "encoding":{"x":{"field":"c","type":"ordinal","sort":["0.03","0.1","0.3","1","3"],"title":"Concentration (%)","scale":{"paddingInner":0.4,"paddingOuter":0.2}},"xOffset":{"field":"s","sort":["Ipsi","contra"]},
        "y":{"field":"hi","type":"quantitative","title":null,"scale":{"domain":[0,1]}}}},
      {"data":{"name":"bars"},"transform":[{"filter":"datum.p=='E'"}],"mark":{"type":"tick","color":"#1a1a1a","thickness":1.2,"size":6},
       "encoding":{"x":{"field":"c","type":"ordinal","sort":["0.03","0.1","0.3","1","3"],"title":"Concentration (%)","scale":{"paddingInner":0.4,"paddingOuter":0.2}},"xOffset":{"field":"s","sort":["Ipsi","contra"]},
        "y":{"field":"lo","type":"quantitative","title":null,"scale":{"domain":[0,1]}}}},
      {"data":{"name":"br"},"transform":[{"filter":"datum.p=='E'"},{"flatten":["s","y","k"]}],"mark":{"type":"line","color":"#333","strokeWidth":1},
       "encoding":{"x":{"field":"c","type":"ordinal","sort":["0.03","0.1","0.3","1","3"],"title":"Concentration (%)","scale":{"paddingInner":0.4,"paddingOuter":0.2}},"xOffset":{"field":"s","sort":["Ipsi","contra"]},
        "y":{"field":"y","type":"quantitative","title":null,"scale":{"domain":[0,1]}},"order":{"field":"k","type":"quantitative"},"detail":{"field":"c"}}},
      {"data":{"name":"sig"},"transform":[{"filter":"datum.p=='E' && datum.lab!='ns'"}],"mark":{"type":"text","fontSize":13,"fontWeight":"bold","baseline":"alphabetic","dy":1},
       "encoding":{"x":{"field":"c","type":"ordinal","sort":["0.03","0.1","0.3","1","3"],"title":"Concentration (%)","scale":{"paddingInner":0.4,"paddingOuter":0.2}},
        "y":{"field":"y","type":"quantitative","title":null,"scale":{"domain":[0,1]}},"text":{"field":"lab"}}},
      {"data":{"name":"sig"},"transform":[{"filter":"datum.p=='E' && datum.lab=='ns'"}],"mark":{"type":"text","fontSize":18,"baseline":"alphabetic","dy":-5},
       "encoding":{"x":{"field":"c","type":"ordinal","sort":["0.03","0.1","0.3","1","3"],"title":"Concentration (%)","scale":{"paddingInner":0.4,"paddingOuter":0.2}},
        "y":{"field":"y","type":"quantitative","title":null,"scale":{"domain":[0,1]}},"text":{"field":"lab"}}}
     ]},
    {"width":274,"height":139,"title":{"text":"I","align":"center","dx":-40,"dy":28},
     "layer":[
      {"data":{"name":"bars"},"transform":[{"filter":"datum.p=='I'"}],"mark":"bar",
       "encoding":{"x":{"field":"c","type":"ordinal","sort":["0.03","0.1","0.3","1","3"],"title":null,"scale":{"paddingInner":0.4,"paddingOuter":0.1464,"align":1},"axis":{"labelPadding":28,"domain":false,"ticks":false,"title":null}},
        "xOffset":{"field":"s","sort":["Ipsi","contra"]},
        "y":{"field":"v","type":"quantitative","title":null,"scale":{"domain":[0,1]}},
        "color":{"field":"s","scale":{"domain":["Ipsi","contra"],"range":["#262626","#8c8c8c"]},"legend":null}}},
      {"data":{"name":"bars"},"transform":[{"filter":"datum.p=='I'"}],"mark":{"type":"rule","color":"#1a1a1a","strokeWidth":1.2},
       "encoding":{"x":{"field":"c","type":"ordinal","sort":["0.03","0.1","0.3","1","3"],"title":null,"scale":{"paddingInner":0.4,"paddingOuter":0.1464,"align":1}},"xOffset":{"field":"s","sort":["Ipsi","contra"]},
        "y":{"field":"lo","type":"quantitative","title":null,"scale":{"domain":[0,1]}},"y2":{"field":"hi"}}},
      {"data":{"name":"bars"},"transform":[{"filter":"datum.p=='I'"}],"mark":{"type":"tick","color":"#1a1a1a","thickness":1.2,"size":6},
       "encoding":{"x":{"field":"c","type":"ordinal","sort":["0.03","0.1","0.3","1","3"],"title":null,"scale":{"paddingInner":0.4,"paddingOuter":0.1464,"align":1}},"xOffset":{"field":"s","sort":["Ipsi","contra"]},
        "y":{"field":"hi","type":"quantitative","title":null,"scale":{"domain":[0,1]}}}},
      {"data":{"name":"bars"},"transform":[{"filter":"datum.p=='I'"}],"mark":{"type":"tick","color":"#1a1a1a","thickness":1.2,"size":6},
       "encoding":{"x":{"field":"c","type":"ordinal","sort":["0.03","0.1","0.3","1","3"],"title":null,"scale":{"paddingInner":0.4,"paddingOuter":0.1464,"align":1}},"xOffset":{"field":"s","sort":["Ipsi","contra"]},
        "y":{"field":"lo","type":"quantitative","title":null,"scale":{"domain":[0,1]}}}}
     ]}
 ]
}
]
}
